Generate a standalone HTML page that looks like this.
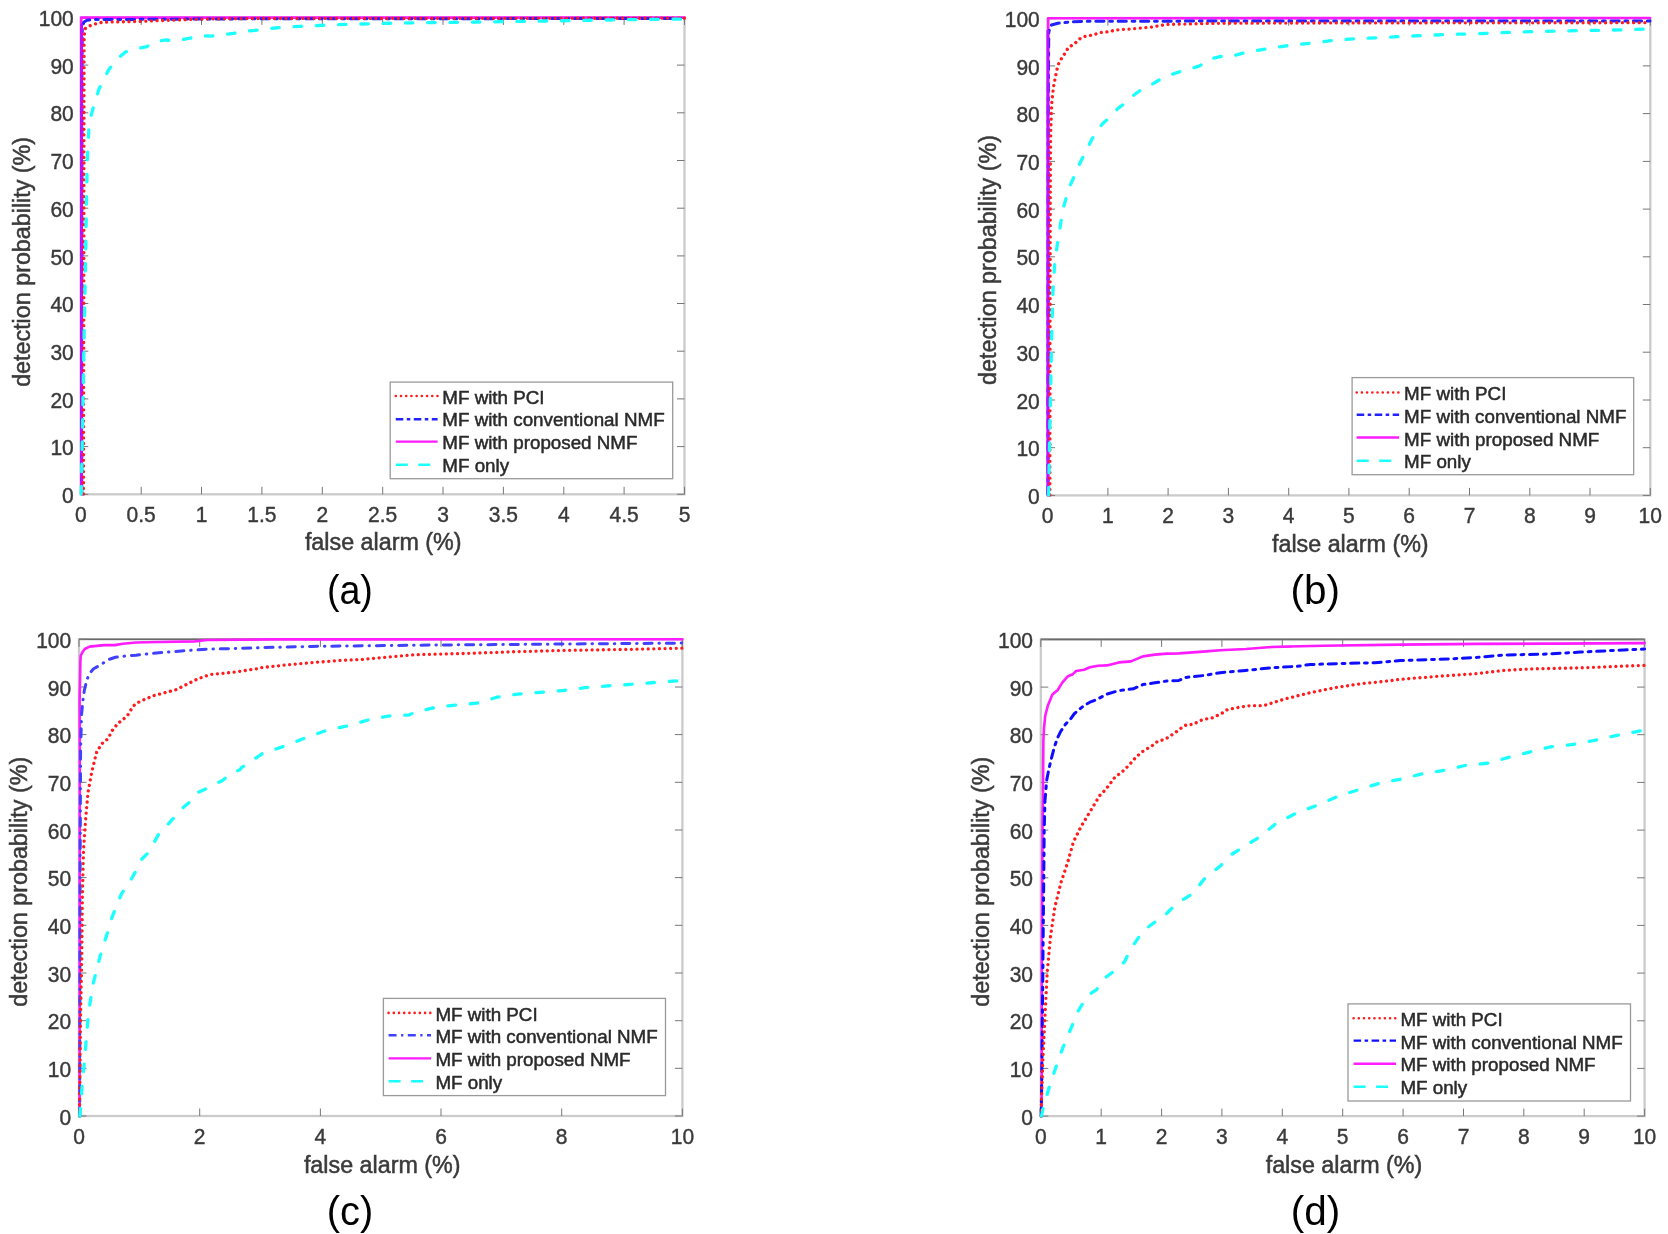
<!DOCTYPE html><html><head><meta charset="utf-8"><style>html,body{margin:0;padding:0;background:#fff;}svg{display:block}</style></head><body>
<svg width="1668" height="1234" viewBox="0 0 1668 1234" font-family='"Liberation Sans", sans-serif'>
<style>.tk{font-size:21px;fill:#3a3a3a;stroke:#3a3a3a;stroke-width:0.4}.lg{font-size:18.8px;fill:#2a2a2a;stroke:#2a2a2a;stroke-width:0.5}.al{font-size:23.3px;fill:#3a3a3a;stroke:#3a3a3a;stroke-width:0.5}.fl{font-size:40.5px;fill:#000}</style>
<rect width="1668" height="1234" fill="#fff"/>
<defs><filter id="bl" x="-5%" y="-5%" width="110%" height="110%"><feGaussianBlur stdDeviation="0.6"/></filter><filter id="tb" x="-2%" y="-2%" width="104%" height="104%"><feGaussianBlur stdDeviation="0.3"/></filter></defs>
<g filter="url(#tb)"><rect x="80.8" y="17.4" width="603.7" height="476.9" fill="none" stroke="#cbcbcb" stroke-width="2.3"/><line x1="80.8" y1="494.3" x2="80.8" y2="486.8" stroke="#777777" stroke-width="1.0"/><line x1="80.8" y1="17.4" x2="80.8" y2="24.9" stroke="#777777" stroke-width="1.0"/><line x1="141.2" y1="494.3" x2="141.2" y2="486.8" stroke="#777777" stroke-width="1.0"/><line x1="141.2" y1="17.4" x2="141.2" y2="24.9" stroke="#777777" stroke-width="1.0"/><line x1="201.5" y1="494.3" x2="201.5" y2="486.8" stroke="#777777" stroke-width="1.0"/><line x1="201.5" y1="17.4" x2="201.5" y2="24.9" stroke="#777777" stroke-width="1.0"/><line x1="261.9" y1="494.3" x2="261.9" y2="486.8" stroke="#777777" stroke-width="1.0"/><line x1="261.9" y1="17.4" x2="261.9" y2="24.9" stroke="#777777" stroke-width="1.0"/><line x1="322.3" y1="494.3" x2="322.3" y2="486.8" stroke="#777777" stroke-width="1.0"/><line x1="322.3" y1="17.4" x2="322.3" y2="24.9" stroke="#777777" stroke-width="1.0"/><line x1="382.7" y1="494.3" x2="382.7" y2="486.8" stroke="#777777" stroke-width="1.0"/><line x1="382.7" y1="17.4" x2="382.7" y2="24.9" stroke="#777777" stroke-width="1.0"/><line x1="443.0" y1="494.3" x2="443.0" y2="486.8" stroke="#777777" stroke-width="1.0"/><line x1="443.0" y1="17.4" x2="443.0" y2="24.9" stroke="#777777" stroke-width="1.0"/><line x1="503.4" y1="494.3" x2="503.4" y2="486.8" stroke="#777777" stroke-width="1.0"/><line x1="503.4" y1="17.4" x2="503.4" y2="24.9" stroke="#777777" stroke-width="1.0"/><line x1="563.8" y1="494.3" x2="563.8" y2="486.8" stroke="#777777" stroke-width="1.0"/><line x1="563.8" y1="17.4" x2="563.8" y2="24.9" stroke="#777777" stroke-width="1.0"/><line x1="624.1" y1="494.3" x2="624.1" y2="486.8" stroke="#777777" stroke-width="1.0"/><line x1="624.1" y1="17.4" x2="624.1" y2="24.9" stroke="#777777" stroke-width="1.0"/><line x1="684.5" y1="494.3" x2="684.5" y2="486.8" stroke="#777777" stroke-width="1.0"/><line x1="684.5" y1="17.4" x2="684.5" y2="24.9" stroke="#777777" stroke-width="1.0"/><line x1="80.8" y1="494.3" x2="88.3" y2="494.3" stroke="#777777" stroke-width="1.0"/><line x1="684.5" y1="494.3" x2="677.0" y2="494.3" stroke="#777777" stroke-width="1.0"/><line x1="80.8" y1="446.6" x2="88.3" y2="446.6" stroke="#777777" stroke-width="1.0"/><line x1="684.5" y1="446.6" x2="677.0" y2="446.6" stroke="#777777" stroke-width="1.0"/><line x1="80.8" y1="398.9" x2="88.3" y2="398.9" stroke="#777777" stroke-width="1.0"/><line x1="684.5" y1="398.9" x2="677.0" y2="398.9" stroke="#777777" stroke-width="1.0"/><line x1="80.8" y1="351.2" x2="88.3" y2="351.2" stroke="#777777" stroke-width="1.0"/><line x1="684.5" y1="351.2" x2="677.0" y2="351.2" stroke="#777777" stroke-width="1.0"/><line x1="80.8" y1="303.5" x2="88.3" y2="303.5" stroke="#777777" stroke-width="1.0"/><line x1="684.5" y1="303.5" x2="677.0" y2="303.5" stroke="#777777" stroke-width="1.0"/><line x1="80.8" y1="255.9" x2="88.3" y2="255.9" stroke="#777777" stroke-width="1.0"/><line x1="684.5" y1="255.9" x2="677.0" y2="255.9" stroke="#777777" stroke-width="1.0"/><line x1="80.8" y1="208.2" x2="88.3" y2="208.2" stroke="#777777" stroke-width="1.0"/><line x1="684.5" y1="208.2" x2="677.0" y2="208.2" stroke="#777777" stroke-width="1.0"/><line x1="80.8" y1="160.5" x2="88.3" y2="160.5" stroke="#777777" stroke-width="1.0"/><line x1="684.5" y1="160.5" x2="677.0" y2="160.5" stroke="#777777" stroke-width="1.0"/><line x1="80.8" y1="112.8" x2="88.3" y2="112.8" stroke="#777777" stroke-width="1.0"/><line x1="684.5" y1="112.8" x2="677.0" y2="112.8" stroke="#777777" stroke-width="1.0"/><line x1="80.8" y1="65.1" x2="88.3" y2="65.1" stroke="#777777" stroke-width="1.0"/><line x1="684.5" y1="65.1" x2="677.0" y2="65.1" stroke="#777777" stroke-width="1.0"/><line x1="80.8" y1="17.4" x2="88.3" y2="17.4" stroke="#777777" stroke-width="1.0"/><line x1="684.5" y1="17.4" x2="677.0" y2="17.4" stroke="#777777" stroke-width="1.0"/><text class="tk" text-anchor="middle" transform="translate(80.8,522.2) scale(1,1.06)">0</text><text class="tk" text-anchor="middle" transform="translate(141.2,522.2) scale(1,1.06)">0.5</text><text class="tk" text-anchor="middle" transform="translate(201.5,522.2) scale(1,1.06)">1</text><text class="tk" text-anchor="middle" transform="translate(261.9,522.2) scale(1,1.06)">1.5</text><text class="tk" text-anchor="middle" transform="translate(322.3,522.2) scale(1,1.06)">2</text><text class="tk" text-anchor="middle" transform="translate(382.7,522.2) scale(1,1.06)">2.5</text><text class="tk" text-anchor="middle" transform="translate(443.0,522.2) scale(1,1.06)">3</text><text class="tk" text-anchor="middle" transform="translate(503.4,522.2) scale(1,1.06)">3.5</text><text class="tk" text-anchor="middle" transform="translate(563.8,522.2) scale(1,1.06)">4</text><text class="tk" text-anchor="middle" transform="translate(624.1,522.2) scale(1,1.06)">4.5</text><text class="tk" text-anchor="middle" transform="translate(684.5,522.2) scale(1,1.06)">5</text><text class="tk" text-anchor="end" transform="translate(73.8,502.9) scale(1,1.06)">0</text><text class="tk" text-anchor="end" transform="translate(73.8,455.2) scale(1,1.06)">10</text><text class="tk" text-anchor="end" transform="translate(73.8,407.5) scale(1,1.06)">20</text><text class="tk" text-anchor="end" transform="translate(73.8,359.8) scale(1,1.06)">30</text><text class="tk" text-anchor="end" transform="translate(73.8,312.1) scale(1,1.06)">40</text><text class="tk" text-anchor="end" transform="translate(73.8,264.5) scale(1,1.06)">50</text><text class="tk" text-anchor="end" transform="translate(73.8,216.8) scale(1,1.06)">60</text><text class="tk" text-anchor="end" transform="translate(73.8,169.1) scale(1,1.06)">70</text><text class="tk" text-anchor="end" transform="translate(73.8,121.4) scale(1,1.06)">80</text><text class="tk" text-anchor="end" transform="translate(73.8,73.7) scale(1,1.06)">90</text><text class="tk" text-anchor="end" transform="translate(73.8,26.0) scale(1,1.06)">100</text></g>
<g filter="url(#bl)"><polyline points="81.2,494.0 81.2,17.6 684.5,17.6" fill="none" stroke="#ff1aff" stroke-width="2.6" stroke-linecap="round" stroke-linejoin="round"/><polyline points="81.8,494.0 81.9,200.0 82.0,60.0 82.3,26.0 84.0,22.0 87.0,20.2 95.0,19.6 150.0,19.3 250.0,18.8 684.5,18.5" fill="none" stroke="#2020ff" stroke-width="3.0" stroke-linecap="round" stroke-linejoin="round" stroke-dasharray="8.2 5.7 2.8 5.7"/><polyline points="81.6,494.0 81.6,24.0" fill="none" stroke="#c00cff" stroke-width="2.8" stroke-linejoin="round"/><polyline points="83.5,494.0 83.8,300.0 84.0,100.0 84.1,40.0 84.6,31.0 85.4,28.5 89.3,26.0 95.1,24.0 101.6,22.4 110.0,22.0 140.0,21.4 165.0,20.4 195.0,19.2 250.0,18.5 684.5,18.2" fill="none" stroke="#ff1a1a" stroke-width="3.3" stroke-linecap="round" stroke-linejoin="round" stroke-dasharray="0.01 5.6"/><polyline points="81.2,494.0 81.7,470.0 82.3,440.0 83.0,400.0 83.8,350.0 84.8,300.0 85.7,250.0 86.5,200.0 87.3,160.0 88.8,130.0 90.5,118.0 92.4,110.7 96.0,98.7 99.0,89.1 103.8,79.5 108.6,70.0 117.0,59.2 125.4,52.0 135.0,49.0 147.0,46.6 153.0,42.4 165.0,40.0 174.5,40.6 180.5,40.0 190.1,38.2 200.9,35.8 211.7,36.1 222.5,34.6 233.3,33.4 244.1,31.3 254.9,30.4 265.6,29.2 275.0,28.0 300.0,26.3 330.0,25.0 360.0,24.0 400.0,23.0 440.0,22.5 480.0,22.0 520.0,21.4 560.0,20.8 600.0,20.1 640.0,19.5 684.5,19.1" fill="none" stroke="#1affff" stroke-width="3.3" stroke-linecap="round" stroke-linejoin="round" stroke-dasharray="7.5 14.8"/></g>
<g filter="url(#tb)"><rect x="390.2" y="382.1" width="282.5" height="96.6" fill="#fff" stroke="#9a9a9a" stroke-width="1.3"/><line x1="395.8" y1="396.0" x2="437.6" y2="396.0" stroke="#ff1a1a" stroke-width="2.6" stroke-linecap="round" stroke-dasharray="0.01 5.2"/><text x="442.3" y="403.7" class="lg">MF with PCI</text><line x1="395.8" y1="419.3" x2="437.6" y2="419.3" stroke="#2020ff" stroke-width="2.4" stroke-linecap="butt" stroke-dasharray="7.5 3.5 3.5 3.5"/><text x="442.3" y="426.4" class="lg">MF with conventional NMF</text><line x1="395.8" y1="441.6" x2="437.6" y2="441.6" stroke="#ff1aff" stroke-width="2.4" stroke-linecap="butt"/><text x="442.3" y="449.1" class="lg">MF with proposed NMF</text><line x1="395.8" y1="464.8" x2="437.6" y2="464.8" stroke="#1affff" stroke-width="2.4" stroke-linecap="butt" stroke-dasharray="12 10.5"/><text x="442.3" y="471.8" class="lg">MF only</text></g>
<g filter="url(#tb)"><text x="0" y="0" class="al" text-anchor="middle" transform="translate(24.0,261.9) rotate(-90)" dy="6.2">detection probability (%)</text>
<text x="383.2" y="550.0" class="al" text-anchor="middle">false alarm (%)</text>
<text x="0" y="0" class="fl" text-anchor="middle" transform="translate(349.9,603.6) scale(0.930,1)">(a)</text></g>
<g filter="url(#tb)"><rect x="1047.6" y="18.2" width="602.7" height="477.2" fill="none" stroke="#cbcbcb" stroke-width="2.3"/><line x1="1047.6" y1="495.4" x2="1047.6" y2="487.9" stroke="#777777" stroke-width="1.0"/><line x1="1047.6" y1="18.2" x2="1047.6" y2="25.7" stroke="#777777" stroke-width="1.0"/><line x1="1107.9" y1="495.4" x2="1107.9" y2="487.9" stroke="#777777" stroke-width="1.0"/><line x1="1107.9" y1="18.2" x2="1107.9" y2="25.7" stroke="#777777" stroke-width="1.0"/><line x1="1168.1" y1="495.4" x2="1168.1" y2="487.9" stroke="#777777" stroke-width="1.0"/><line x1="1168.1" y1="18.2" x2="1168.1" y2="25.7" stroke="#777777" stroke-width="1.0"/><line x1="1228.4" y1="495.4" x2="1228.4" y2="487.9" stroke="#777777" stroke-width="1.0"/><line x1="1228.4" y1="18.2" x2="1228.4" y2="25.7" stroke="#777777" stroke-width="1.0"/><line x1="1288.7" y1="495.4" x2="1288.7" y2="487.9" stroke="#777777" stroke-width="1.0"/><line x1="1288.7" y1="18.2" x2="1288.7" y2="25.7" stroke="#777777" stroke-width="1.0"/><line x1="1348.9" y1="495.4" x2="1348.9" y2="487.9" stroke="#777777" stroke-width="1.0"/><line x1="1348.9" y1="18.2" x2="1348.9" y2="25.7" stroke="#777777" stroke-width="1.0"/><line x1="1409.2" y1="495.4" x2="1409.2" y2="487.9" stroke="#777777" stroke-width="1.0"/><line x1="1409.2" y1="18.2" x2="1409.2" y2="25.7" stroke="#777777" stroke-width="1.0"/><line x1="1469.5" y1="495.4" x2="1469.5" y2="487.9" stroke="#777777" stroke-width="1.0"/><line x1="1469.5" y1="18.2" x2="1469.5" y2="25.7" stroke="#777777" stroke-width="1.0"/><line x1="1529.8" y1="495.4" x2="1529.8" y2="487.9" stroke="#777777" stroke-width="1.0"/><line x1="1529.8" y1="18.2" x2="1529.8" y2="25.7" stroke="#777777" stroke-width="1.0"/><line x1="1590.0" y1="495.4" x2="1590.0" y2="487.9" stroke="#777777" stroke-width="1.0"/><line x1="1590.0" y1="18.2" x2="1590.0" y2="25.7" stroke="#777777" stroke-width="1.0"/><line x1="1650.3" y1="495.4" x2="1650.3" y2="487.9" stroke="#777777" stroke-width="1.0"/><line x1="1650.3" y1="18.2" x2="1650.3" y2="25.7" stroke="#777777" stroke-width="1.0"/><line x1="1047.6" y1="495.4" x2="1055.1" y2="495.4" stroke="#777777" stroke-width="1.0"/><line x1="1650.3" y1="495.4" x2="1642.8" y2="495.4" stroke="#777777" stroke-width="1.0"/><line x1="1047.6" y1="447.7" x2="1055.1" y2="447.7" stroke="#777777" stroke-width="1.0"/><line x1="1650.3" y1="447.7" x2="1642.8" y2="447.7" stroke="#777777" stroke-width="1.0"/><line x1="1047.6" y1="400.0" x2="1055.1" y2="400.0" stroke="#777777" stroke-width="1.0"/><line x1="1650.3" y1="400.0" x2="1642.8" y2="400.0" stroke="#777777" stroke-width="1.0"/><line x1="1047.6" y1="352.2" x2="1055.1" y2="352.2" stroke="#777777" stroke-width="1.0"/><line x1="1650.3" y1="352.2" x2="1642.8" y2="352.2" stroke="#777777" stroke-width="1.0"/><line x1="1047.6" y1="304.5" x2="1055.1" y2="304.5" stroke="#777777" stroke-width="1.0"/><line x1="1650.3" y1="304.5" x2="1642.8" y2="304.5" stroke="#777777" stroke-width="1.0"/><line x1="1047.6" y1="256.8" x2="1055.1" y2="256.8" stroke="#777777" stroke-width="1.0"/><line x1="1650.3" y1="256.8" x2="1642.8" y2="256.8" stroke="#777777" stroke-width="1.0"/><line x1="1047.6" y1="209.1" x2="1055.1" y2="209.1" stroke="#777777" stroke-width="1.0"/><line x1="1650.3" y1="209.1" x2="1642.8" y2="209.1" stroke="#777777" stroke-width="1.0"/><line x1="1047.6" y1="161.4" x2="1055.1" y2="161.4" stroke="#777777" stroke-width="1.0"/><line x1="1650.3" y1="161.4" x2="1642.8" y2="161.4" stroke="#777777" stroke-width="1.0"/><line x1="1047.6" y1="113.6" x2="1055.1" y2="113.6" stroke="#777777" stroke-width="1.0"/><line x1="1650.3" y1="113.6" x2="1642.8" y2="113.6" stroke="#777777" stroke-width="1.0"/><line x1="1047.6" y1="65.9" x2="1055.1" y2="65.9" stroke="#777777" stroke-width="1.0"/><line x1="1650.3" y1="65.9" x2="1642.8" y2="65.9" stroke="#777777" stroke-width="1.0"/><line x1="1047.6" y1="18.2" x2="1055.1" y2="18.2" stroke="#777777" stroke-width="1.0"/><line x1="1650.3" y1="18.2" x2="1642.8" y2="18.2" stroke="#777777" stroke-width="1.0"/><text class="tk" text-anchor="middle" transform="translate(1047.6,523.3) scale(1,1.06)">0</text><text class="tk" text-anchor="middle" transform="translate(1107.9,523.3) scale(1,1.06)">1</text><text class="tk" text-anchor="middle" transform="translate(1168.1,523.3) scale(1,1.06)">2</text><text class="tk" text-anchor="middle" transform="translate(1228.4,523.3) scale(1,1.06)">3</text><text class="tk" text-anchor="middle" transform="translate(1288.7,523.3) scale(1,1.06)">4</text><text class="tk" text-anchor="middle" transform="translate(1348.9,523.3) scale(1,1.06)">5</text><text class="tk" text-anchor="middle" transform="translate(1409.2,523.3) scale(1,1.06)">6</text><text class="tk" text-anchor="middle" transform="translate(1469.5,523.3) scale(1,1.06)">7</text><text class="tk" text-anchor="middle" transform="translate(1529.8,523.3) scale(1,1.06)">8</text><text class="tk" text-anchor="middle" transform="translate(1590.0,523.3) scale(1,1.06)">9</text><text class="tk" text-anchor="middle" transform="translate(1650.3,523.3) scale(1,1.06)">10</text><text class="tk" text-anchor="end" transform="translate(1039.8,504.0) scale(1,1.06)">0</text><text class="tk" text-anchor="end" transform="translate(1039.8,456.3) scale(1,1.06)">10</text><text class="tk" text-anchor="end" transform="translate(1039.8,408.6) scale(1,1.06)">20</text><text class="tk" text-anchor="end" transform="translate(1039.8,360.8) scale(1,1.06)">30</text><text class="tk" text-anchor="end" transform="translate(1039.8,313.1) scale(1,1.06)">40</text><text class="tk" text-anchor="end" transform="translate(1039.8,265.4) scale(1,1.06)">50</text><text class="tk" text-anchor="end" transform="translate(1039.8,217.7) scale(1,1.06)">60</text><text class="tk" text-anchor="end" transform="translate(1039.8,170.0) scale(1,1.06)">70</text><text class="tk" text-anchor="end" transform="translate(1039.8,122.2) scale(1,1.06)">80</text><text class="tk" text-anchor="end" transform="translate(1039.8,74.5) scale(1,1.06)">90</text><text class="tk" text-anchor="end" transform="translate(1039.8,26.8) scale(1,1.06)">100</text></g>
<g filter="url(#bl)"><polyline points="1048.2,495.0 1048.2,18.2 1650.0,18.0" fill="none" stroke="#ff1aff" stroke-width="2.6" stroke-linecap="round" stroke-linejoin="round"/><polyline points="1048.0,495.0 1048.2,100.0 1048.8,31.6 1051.4,25.0 1058.0,23.2 1070.0,22.0 1088.0,21.3 1150.0,21.2 1231.8,21.0 1650.0,21.0" fill="none" stroke="#2020ff" stroke-width="3.0" stroke-linecap="round" stroke-linejoin="round" stroke-dasharray="8.2 5.7 2.8 5.7"/><polyline points="1047.8,495.0 1047.8,30.0" fill="none" stroke="#c00cff" stroke-width="2.8" stroke-linejoin="round"/><polyline points="1049.9,495.0 1050.1,300.0 1050.4,160.0 1050.8,129.9 1051.6,105.0 1052.4,96.0 1053.1,90.6 1054.0,84.1 1055.3,77.6 1056.6,71.1 1057.6,66.6 1059.6,61.4 1062.8,56.8 1064.7,53.6 1068.6,47.1 1073.8,44.5 1077.1,41.3 1080.3,38.4 1084.8,36.4 1090.7,35.4 1095.2,34.2 1100.4,32.5 1105.6,32.2 1110.8,31.2 1116.0,29.9 1121.1,29.6 1135.9,28.6 1153.9,26.8 1165.9,24.4 1183.9,24.1 1207.9,23.4 1239.0,23.2 1300.0,23.0 1400.0,22.9 1500.0,22.8 1650.0,22.7" fill="none" stroke="#ff1a1a" stroke-width="3.3" stroke-linecap="round" stroke-linejoin="round" stroke-dasharray="0.01 5.6"/><polyline points="1048.6,495.0 1049.8,427.7 1050.8,381.5 1051.7,335.4 1052.9,292.3 1054.8,261.5 1058.5,237.0 1063.0,209.0 1069.2,187.7 1080.0,163.0 1092.3,138.5 1097.6,129.9 1103.5,122.7 1112.0,115.5 1118.0,108.3 1126.3,102.3 1132.3,96.3 1141.9,89.1 1149.1,86.1 1159.9,79.5 1167.1,76.0 1177.9,72.3 1186.3,70.0 1198.3,66.4 1201.9,64.6 1209.1,59.2 1222.3,56.2 1231.8,56.2 1246.4,52.2 1270.1,48.3 1291.2,45.1 1312.3,43.0 1333.5,40.3 1357.2,38.5 1378.3,37.7 1402.0,36.4 1423.2,35.6 1444.3,34.5 1468.0,34.0 1489.1,33.2 1510.2,32.4 1533.9,31.6 1555.1,31.1 1578.8,30.6 1599.9,30.3 1623.7,29.8 1650.0,29.0" fill="none" stroke="#1affff" stroke-width="3.3" stroke-linecap="round" stroke-linejoin="round" stroke-dasharray="7.5 14.8"/></g>
<g filter="url(#tb)"><rect x="1352.1" y="377.6" width="281.6" height="97.1" fill="#fff" stroke="#9a9a9a" stroke-width="1.3"/><line x1="1356.7" y1="392.5" x2="1399.1" y2="392.5" stroke="#ff1a1a" stroke-width="2.6" stroke-linecap="round" stroke-dasharray="0.01 5.2"/><text x="1404.1" y="400.2" class="lg">MF with PCI</text><line x1="1356.7" y1="414.8" x2="1399.1" y2="414.8" stroke="#2020ff" stroke-width="2.4" stroke-linecap="butt" stroke-dasharray="7.5 3.5 3.5 3.5"/><text x="1404.1" y="422.9" class="lg">MF with conventional NMF</text><line x1="1356.7" y1="437.5" x2="1399.1" y2="437.5" stroke="#ff1aff" stroke-width="2.4" stroke-linecap="butt"/><text x="1404.1" y="445.6" class="lg">MF with proposed NMF</text><line x1="1356.7" y1="460.7" x2="1399.1" y2="460.7" stroke="#1affff" stroke-width="2.4" stroke-linecap="butt" stroke-dasharray="12 10.5"/><text x="1404.1" y="468.3" class="lg">MF only</text></g>
<g filter="url(#tb)"><text x="0" y="0" class="al" text-anchor="middle" transform="translate(990.0,260.0) rotate(-90)" dy="6.2">detection probability (%)</text>
<text x="1350.3" y="552.0" class="al" text-anchor="middle">false alarm (%)</text>
<text x="0" y="0" class="fl" text-anchor="middle" transform="translate(1315.2,603.6) scale(1.000,1)">(b)</text></g>
<g filter="url(#tb)"><rect x="79.0" y="639.3" width="603.4" height="476.7" fill="none" stroke="#cbcbcb" stroke-width="2.3"/><line x1="79.0" y1="639.3" x2="682.4" y2="639.3" stroke="#6a6a6a" stroke-width="1.6"/><line x1="79.0" y1="1116.0" x2="79.0" y2="1108.5" stroke="#777777" stroke-width="1.0"/><line x1="79.0" y1="639.3" x2="79.0" y2="646.8" stroke="#777777" stroke-width="1.0"/><line x1="199.7" y1="1116.0" x2="199.7" y2="1108.5" stroke="#777777" stroke-width="1.0"/><line x1="199.7" y1="639.3" x2="199.7" y2="646.8" stroke="#777777" stroke-width="1.0"/><line x1="320.4" y1="1116.0" x2="320.4" y2="1108.5" stroke="#777777" stroke-width="1.0"/><line x1="320.4" y1="639.3" x2="320.4" y2="646.8" stroke="#777777" stroke-width="1.0"/><line x1="441.0" y1="1116.0" x2="441.0" y2="1108.5" stroke="#777777" stroke-width="1.0"/><line x1="441.0" y1="639.3" x2="441.0" y2="646.8" stroke="#777777" stroke-width="1.0"/><line x1="561.7" y1="1116.0" x2="561.7" y2="1108.5" stroke="#777777" stroke-width="1.0"/><line x1="561.7" y1="639.3" x2="561.7" y2="646.8" stroke="#777777" stroke-width="1.0"/><line x1="682.4" y1="1116.0" x2="682.4" y2="1108.5" stroke="#777777" stroke-width="1.0"/><line x1="682.4" y1="639.3" x2="682.4" y2="646.8" stroke="#777777" stroke-width="1.0"/><line x1="79.0" y1="1116.0" x2="86.5" y2="1116.0" stroke="#777777" stroke-width="1.0"/><line x1="682.4" y1="1116.0" x2="674.9" y2="1116.0" stroke="#777777" stroke-width="1.0"/><line x1="79.0" y1="1068.3" x2="86.5" y2="1068.3" stroke="#777777" stroke-width="1.0"/><line x1="682.4" y1="1068.3" x2="674.9" y2="1068.3" stroke="#777777" stroke-width="1.0"/><line x1="79.0" y1="1020.7" x2="86.5" y2="1020.7" stroke="#777777" stroke-width="1.0"/><line x1="682.4" y1="1020.7" x2="674.9" y2="1020.7" stroke="#777777" stroke-width="1.0"/><line x1="79.0" y1="973.0" x2="86.5" y2="973.0" stroke="#777777" stroke-width="1.0"/><line x1="682.4" y1="973.0" x2="674.9" y2="973.0" stroke="#777777" stroke-width="1.0"/><line x1="79.0" y1="925.3" x2="86.5" y2="925.3" stroke="#777777" stroke-width="1.0"/><line x1="682.4" y1="925.3" x2="674.9" y2="925.3" stroke="#777777" stroke-width="1.0"/><line x1="79.0" y1="877.6" x2="86.5" y2="877.6" stroke="#777777" stroke-width="1.0"/><line x1="682.4" y1="877.6" x2="674.9" y2="877.6" stroke="#777777" stroke-width="1.0"/><line x1="79.0" y1="830.0" x2="86.5" y2="830.0" stroke="#777777" stroke-width="1.0"/><line x1="682.4" y1="830.0" x2="674.9" y2="830.0" stroke="#777777" stroke-width="1.0"/><line x1="79.0" y1="782.3" x2="86.5" y2="782.3" stroke="#777777" stroke-width="1.0"/><line x1="682.4" y1="782.3" x2="674.9" y2="782.3" stroke="#777777" stroke-width="1.0"/><line x1="79.0" y1="734.6" x2="86.5" y2="734.6" stroke="#777777" stroke-width="1.0"/><line x1="682.4" y1="734.6" x2="674.9" y2="734.6" stroke="#777777" stroke-width="1.0"/><line x1="79.0" y1="687.0" x2="86.5" y2="687.0" stroke="#777777" stroke-width="1.0"/><line x1="682.4" y1="687.0" x2="674.9" y2="687.0" stroke="#777777" stroke-width="1.0"/><line x1="79.0" y1="639.3" x2="86.5" y2="639.3" stroke="#777777" stroke-width="1.0"/><line x1="682.4" y1="639.3" x2="674.9" y2="639.3" stroke="#777777" stroke-width="1.0"/><text class="tk" text-anchor="middle" transform="translate(79.0,1143.9) scale(1,1.06)">0</text><text class="tk" text-anchor="middle" transform="translate(199.7,1143.9) scale(1,1.06)">2</text><text class="tk" text-anchor="middle" transform="translate(320.4,1143.9) scale(1,1.06)">4</text><text class="tk" text-anchor="middle" transform="translate(441.0,1143.9) scale(1,1.06)">6</text><text class="tk" text-anchor="middle" transform="translate(561.7,1143.9) scale(1,1.06)">8</text><text class="tk" text-anchor="middle" transform="translate(682.4,1143.9) scale(1,1.06)">10</text><text class="tk" text-anchor="end" transform="translate(71.2,1124.6) scale(1,1.06)">0</text><text class="tk" text-anchor="end" transform="translate(71.2,1076.9) scale(1,1.06)">10</text><text class="tk" text-anchor="end" transform="translate(71.2,1029.3) scale(1,1.06)">20</text><text class="tk" text-anchor="end" transform="translate(71.2,981.6) scale(1,1.06)">30</text><text class="tk" text-anchor="end" transform="translate(71.2,933.9) scale(1,1.06)">40</text><text class="tk" text-anchor="end" transform="translate(71.2,886.2) scale(1,1.06)">50</text><text class="tk" text-anchor="end" transform="translate(71.2,838.6) scale(1,1.06)">60</text><text class="tk" text-anchor="end" transform="translate(71.2,790.9) scale(1,1.06)">70</text><text class="tk" text-anchor="end" transform="translate(71.2,743.2) scale(1,1.06)">80</text><text class="tk" text-anchor="end" transform="translate(71.2,695.6) scale(1,1.06)">90</text><text class="tk" text-anchor="end" transform="translate(71.2,647.9) scale(1,1.06)">100</text></g>
<g filter="url(#bl)"><polyline points="79.6,1116.0 79.7,900.0 79.8,749.9 79.6,700.0 80.1,677.5 80.4,661.9 80.7,655.7 82.2,652.6 84.8,649.0 89.5,646.6 96.7,645.9 104.5,645.1 114.9,645.1 122.7,643.8 136.0,642.5 158.9,642.0 194.9,641.4 206.9,640.0 275.0,639.4 682.4,639.3" fill="none" stroke="#ff1aff" stroke-width="2.6" stroke-linecap="round" stroke-linejoin="round"/><polyline points="79.8,1116.0 80.0,900.0 80.6,750.0 81.6,713.9 83.0,700.0 84.3,690.5 85.9,683.7 87.2,679.0 89.0,674.9 91.0,671.8 93.6,668.7 99.3,665.6 105.0,661.9 109.2,659.3 115.4,657.3 121.6,656.5 127.9,655.7 136.0,655.2 147.0,654.0 164.9,652.2 188.9,650.4 206.9,649.2 230.9,648.6 254.9,648.0 260.0,647.7 311.6,646.4 414.7,645.2 517.8,644.4 682.4,643.1" fill="none" stroke="#4040ff" stroke-width="3.0" stroke-linecap="round" stroke-linejoin="round" stroke-dasharray="8.1 6.8 0.5 6.9"/><polyline points="79.6,1116.0 79.6,1109.8 80.5,1017.4 81.8,955.7 82.4,894.0 83.6,847.9 85.8,817.0 88.0,792.4 92.0,770.8 96.6,752.3 97.4,751.9 100.8,744.7 108.1,738.6 110.1,734.6 112.2,730.5 115.4,726.9 117.4,723.2 121.5,721.2 124.7,718.0 128.0,714.7 130.4,710.7 133.2,706.2 136.5,703.4 141.7,700.5 147.4,698.5 151.5,696.1 156.7,694.9 176.3,689.6 197.9,678.8 210.0,674.6 233.9,672.2 257.9,668.6 260.0,667.8 285.8,665.0 311.6,662.7 337.3,660.6 363.1,659.3 388.9,657.0 414.7,654.7 466.2,653.4 517.8,651.6 569.4,650.3 620.9,649.5 682.4,648.2" fill="none" stroke="#ff1a1a" stroke-width="3.3" stroke-linecap="round" stroke-linejoin="round" stroke-dasharray="0.01 5.6"/><polyline points="79.8,1116.0 80.9,1103.0 82.5,1080.0 84.8,1058.0 86.6,1035.0 88.6,1012.0 90.9,997.7 93.3,983.1 96.3,971.4 100.2,955.9 103.6,944.2 106.0,937.4 109.9,924.7 111.8,917.9 116.7,905.3 121.6,893.6 127.8,884.8 132.2,877.5 137.5,868.2 141.9,859.0 149.2,851.7 153.1,844.4 158.9,833.7 164.7,828.4 172.5,819.1 178.4,814.3 183.2,807.5 189.1,802.6 196.8,792.9 204.6,789.5 214.4,784.1 222.1,780.7 231.9,772.9 239.6,770.0 241.4,767.7 259.9,755.4 262.6,753.4 285.8,745.7 306.4,737.4 327.0,730.2 347.7,725.8 368.3,719.9 388.9,716.0 409.5,714.8 414.7,712.2 435.3,707.5 455.9,705.0 476.6,703.2 497.2,697.2 517.8,694.1 543.6,692.1 564.2,690.3 584.8,687.7 608.0,685.9 631.2,684.3 654.4,682.5 682.4,680.5" fill="none" stroke="#1affff" stroke-width="3.3" stroke-linecap="round" stroke-linejoin="round" stroke-dasharray="7.5 14.8"/></g>
<g filter="url(#tb)"><rect x="383.4" y="998.4" width="282.1" height="97.2" fill="#fff" stroke="#9a9a9a" stroke-width="1.3"/><line x1="388.6" y1="1012.9" x2="431.0" y2="1012.9" stroke="#ff1a1a" stroke-width="2.6" stroke-linecap="round" stroke-dasharray="0.01 5.2"/><text x="435.4" y="1020.6" class="lg">MF with PCI</text><line x1="388.6" y1="1035.2" x2="431.0" y2="1035.2" stroke="#4040ff" stroke-width="2.4" stroke-linecap="butt" stroke-dasharray="8 4.5 2.2 4.5"/><text x="435.4" y="1043.3" class="lg">MF with conventional NMF</text><line x1="388.6" y1="1058.4" x2="431.0" y2="1058.4" stroke="#ff1aff" stroke-width="2.4" stroke-linecap="butt"/><text x="435.4" y="1066.0" class="lg">MF with proposed NMF</text><line x1="388.6" y1="1081.3" x2="431.0" y2="1081.3" stroke="#1affff" stroke-width="2.4" stroke-linecap="butt" stroke-dasharray="12 10.5"/><text x="435.4" y="1088.7" class="lg">MF only</text></g>
<g filter="url(#tb)"><text x="0" y="0" class="al" text-anchor="middle" transform="translate(21.0,881.8) rotate(-90)" dy="6.2">detection probability (%)</text>
<text x="382.2" y="1172.5" class="al" text-anchor="middle">false alarm (%)</text>
<text x="0" y="0" class="fl" text-anchor="middle" transform="translate(350.0,1224.6) scale(0.985,1)">(c)</text></g>
<g filter="url(#tb)"><rect x="1040.8" y="639.4" width="603.8" height="476.7" fill="none" stroke="#cbcbcb" stroke-width="2.3"/><line x1="1040.8" y1="639.4" x2="1644.6" y2="639.4" stroke="#6a6a6a" stroke-width="1.6"/><line x1="1040.8" y1="1116.1" x2="1040.8" y2="1108.6" stroke="#777777" stroke-width="1.0"/><line x1="1040.8" y1="639.4" x2="1040.8" y2="646.9" stroke="#777777" stroke-width="1.0"/><line x1="1101.2" y1="1116.1" x2="1101.2" y2="1108.6" stroke="#777777" stroke-width="1.0"/><line x1="1101.2" y1="639.4" x2="1101.2" y2="646.9" stroke="#777777" stroke-width="1.0"/><line x1="1161.6" y1="1116.1" x2="1161.6" y2="1108.6" stroke="#777777" stroke-width="1.0"/><line x1="1161.6" y1="639.4" x2="1161.6" y2="646.9" stroke="#777777" stroke-width="1.0"/><line x1="1221.9" y1="1116.1" x2="1221.9" y2="1108.6" stroke="#777777" stroke-width="1.0"/><line x1="1221.9" y1="639.4" x2="1221.9" y2="646.9" stroke="#777777" stroke-width="1.0"/><line x1="1282.3" y1="1116.1" x2="1282.3" y2="1108.6" stroke="#777777" stroke-width="1.0"/><line x1="1282.3" y1="639.4" x2="1282.3" y2="646.9" stroke="#777777" stroke-width="1.0"/><line x1="1342.7" y1="1116.1" x2="1342.7" y2="1108.6" stroke="#777777" stroke-width="1.0"/><line x1="1342.7" y1="639.4" x2="1342.7" y2="646.9" stroke="#777777" stroke-width="1.0"/><line x1="1403.1" y1="1116.1" x2="1403.1" y2="1108.6" stroke="#777777" stroke-width="1.0"/><line x1="1403.1" y1="639.4" x2="1403.1" y2="646.9" stroke="#777777" stroke-width="1.0"/><line x1="1463.5" y1="1116.1" x2="1463.5" y2="1108.6" stroke="#777777" stroke-width="1.0"/><line x1="1463.5" y1="639.4" x2="1463.5" y2="646.9" stroke="#777777" stroke-width="1.0"/><line x1="1523.8" y1="1116.1" x2="1523.8" y2="1108.6" stroke="#777777" stroke-width="1.0"/><line x1="1523.8" y1="639.4" x2="1523.8" y2="646.9" stroke="#777777" stroke-width="1.0"/><line x1="1584.2" y1="1116.1" x2="1584.2" y2="1108.6" stroke="#777777" stroke-width="1.0"/><line x1="1584.2" y1="639.4" x2="1584.2" y2="646.9" stroke="#777777" stroke-width="1.0"/><line x1="1644.6" y1="1116.1" x2="1644.6" y2="1108.6" stroke="#777777" stroke-width="1.0"/><line x1="1644.6" y1="639.4" x2="1644.6" y2="646.9" stroke="#777777" stroke-width="1.0"/><line x1="1040.8" y1="1116.1" x2="1048.3" y2="1116.1" stroke="#777777" stroke-width="1.0"/><line x1="1644.6" y1="1116.1" x2="1637.1" y2="1116.1" stroke="#777777" stroke-width="1.0"/><line x1="1040.8" y1="1068.4" x2="1048.3" y2="1068.4" stroke="#777777" stroke-width="1.0"/><line x1="1644.6" y1="1068.4" x2="1637.1" y2="1068.4" stroke="#777777" stroke-width="1.0"/><line x1="1040.8" y1="1020.8" x2="1048.3" y2="1020.8" stroke="#777777" stroke-width="1.0"/><line x1="1644.6" y1="1020.8" x2="1637.1" y2="1020.8" stroke="#777777" stroke-width="1.0"/><line x1="1040.8" y1="973.1" x2="1048.3" y2="973.1" stroke="#777777" stroke-width="1.0"/><line x1="1644.6" y1="973.1" x2="1637.1" y2="973.1" stroke="#777777" stroke-width="1.0"/><line x1="1040.8" y1="925.4" x2="1048.3" y2="925.4" stroke="#777777" stroke-width="1.0"/><line x1="1644.6" y1="925.4" x2="1637.1" y2="925.4" stroke="#777777" stroke-width="1.0"/><line x1="1040.8" y1="877.8" x2="1048.3" y2="877.8" stroke="#777777" stroke-width="1.0"/><line x1="1644.6" y1="877.8" x2="1637.1" y2="877.8" stroke="#777777" stroke-width="1.0"/><line x1="1040.8" y1="830.1" x2="1048.3" y2="830.1" stroke="#777777" stroke-width="1.0"/><line x1="1644.6" y1="830.1" x2="1637.1" y2="830.1" stroke="#777777" stroke-width="1.0"/><line x1="1040.8" y1="782.4" x2="1048.3" y2="782.4" stroke="#777777" stroke-width="1.0"/><line x1="1644.6" y1="782.4" x2="1637.1" y2="782.4" stroke="#777777" stroke-width="1.0"/><line x1="1040.8" y1="734.7" x2="1048.3" y2="734.7" stroke="#777777" stroke-width="1.0"/><line x1="1644.6" y1="734.7" x2="1637.1" y2="734.7" stroke="#777777" stroke-width="1.0"/><line x1="1040.8" y1="687.1" x2="1048.3" y2="687.1" stroke="#777777" stroke-width="1.0"/><line x1="1644.6" y1="687.1" x2="1637.1" y2="687.1" stroke="#777777" stroke-width="1.0"/><line x1="1040.8" y1="639.4" x2="1048.3" y2="639.4" stroke="#777777" stroke-width="1.0"/><line x1="1644.6" y1="639.4" x2="1637.1" y2="639.4" stroke="#777777" stroke-width="1.0"/><text class="tk" text-anchor="middle" transform="translate(1040.8,1144.0) scale(1,1.06)">0</text><text class="tk" text-anchor="middle" transform="translate(1101.2,1144.0) scale(1,1.06)">1</text><text class="tk" text-anchor="middle" transform="translate(1161.6,1144.0) scale(1,1.06)">2</text><text class="tk" text-anchor="middle" transform="translate(1221.9,1144.0) scale(1,1.06)">3</text><text class="tk" text-anchor="middle" transform="translate(1282.3,1144.0) scale(1,1.06)">4</text><text class="tk" text-anchor="middle" transform="translate(1342.7,1144.0) scale(1,1.06)">5</text><text class="tk" text-anchor="middle" transform="translate(1403.1,1144.0) scale(1,1.06)">6</text><text class="tk" text-anchor="middle" transform="translate(1463.5,1144.0) scale(1,1.06)">7</text><text class="tk" text-anchor="middle" transform="translate(1523.8,1144.0) scale(1,1.06)">8</text><text class="tk" text-anchor="middle" transform="translate(1584.2,1144.0) scale(1,1.06)">9</text><text class="tk" text-anchor="middle" transform="translate(1644.6,1144.0) scale(1,1.06)">10</text><text class="tk" text-anchor="end" transform="translate(1033.0,1124.7) scale(1,1.06)">0</text><text class="tk" text-anchor="end" transform="translate(1033.0,1077.0) scale(1,1.06)">10</text><text class="tk" text-anchor="end" transform="translate(1033.0,1029.4) scale(1,1.06)">20</text><text class="tk" text-anchor="end" transform="translate(1033.0,981.7) scale(1,1.06)">30</text><text class="tk" text-anchor="end" transform="translate(1033.0,934.0) scale(1,1.06)">40</text><text class="tk" text-anchor="end" transform="translate(1033.0,886.4) scale(1,1.06)">50</text><text class="tk" text-anchor="end" transform="translate(1033.0,838.7) scale(1,1.06)">60</text><text class="tk" text-anchor="end" transform="translate(1033.0,791.0) scale(1,1.06)">70</text><text class="tk" text-anchor="end" transform="translate(1033.0,743.3) scale(1,1.06)">80</text><text class="tk" text-anchor="end" transform="translate(1033.0,695.7) scale(1,1.06)">90</text><text class="tk" text-anchor="end" transform="translate(1033.0,648.0) scale(1,1.06)">100</text></g>
<g filter="url(#bl)"><polyline points="1041.6,1116.0 1041.8,950.0 1042.6,820.0 1043.1,790.0 1043.2,760.0 1043.4,740.0 1044.0,728.0 1045.2,716.0 1047.9,705.4 1052.4,694.6 1057.5,690.2 1062.3,682.6 1068.0,676.2 1072.9,674.2 1076.1,671.0 1084.2,669.7 1089.9,667.3 1098.0,665.7 1106.9,665.4 1118.9,662.4 1130.9,661.4 1142.9,656.4 1154.9,654.6 1166.9,653.6 1178.9,653.4 1202.9,651.6 1220.0,650.3 1245.8,649.0 1271.6,647.0 1323.1,645.7 1400.5,644.6 1477.8,643.9 1555.1,643.6 1644.6,643.1" fill="none" stroke="#ff1aff" stroke-width="2.6" stroke-linecap="round" stroke-linejoin="round"/><polyline points="1041.2,1116.0 1041.2,1112.9 1041.8,1079.0 1042.7,986.5 1043.6,894.1 1044.2,832.4 1044.9,801.6 1046.7,780.1 1049.0,768.5 1051.0,760.0 1054.2,747.6 1057.5,737.9 1060.7,731.4 1065.6,724.1 1070.4,719.2 1074.5,713.5 1078.6,709.9 1084.2,705.4 1089.9,702.2 1096.4,699.7 1106.9,694.1 1118.9,690.6 1133.3,688.8 1142.9,684.6 1154.9,682.8 1166.9,681.0 1178.9,680.4 1186.1,677.4 1202.9,675.6 1220.0,672.7 1245.8,670.4 1271.6,667.8 1297.3,666.3 1310.2,664.5 1336.0,663.7 1374.7,662.7 1400.5,660.6 1452.0,658.8 1477.8,657.3 1503.6,655.0 1542.2,654.2 1580.9,652.1 1606.7,650.8 1644.6,649.0" fill="none" stroke="#1010ff" stroke-width="3.0" stroke-linecap="round" stroke-linejoin="round" stroke-dasharray="8.2 5.7 2.8 5.7"/><polyline points="1041.2,1116.0 1041.2,1109.8 1042.7,1063.6 1044.9,1017.4 1047.3,971.1 1050.4,937.2 1055.0,906.4 1061.2,881.8 1067.4,863.3 1073.5,841.7 1081.2,826.3 1090.5,810.9 1099.7,795.5 1106.3,788.8 1114.9,777.3 1122.6,771.5 1129.3,764.8 1136.0,757.1 1142.8,751.4 1152.3,745.6 1157.1,741.8 1165.8,738.9 1174.4,733.2 1182.1,727.4 1186.9,724.5 1192.6,724.5 1202.2,719.7 1212.8,717.8 1222.4,713.0 1227.2,709.7 1236.8,707.7 1248.3,705.8 1263.8,705.6 1284.4,699.1 1310.2,692.7 1336.0,687.5 1361.8,683.6 1387.6,681.1 1400.5,679.3 1439.1,676.2 1477.8,673.6 1503.6,670.4 1529.4,668.9 1580.9,667.8 1644.6,665.3" fill="none" stroke="#ff1a1a" stroke-width="3.3" stroke-linecap="round" stroke-linejoin="round" stroke-dasharray="0.01 5.6"/><polyline points="1041.5,1116.0 1042.7,1109.8 1048.9,1088.2 1055.0,1069.7 1062.7,1048.2 1070.4,1029.7 1078.1,1011.2 1087.4,995.8 1096.6,989.6 1105.9,977.3 1118.2,968.0 1124.4,961.9 1130.5,949.5 1142.9,931.1 1155.2,921.8 1164.4,915.7 1176.8,903.3 1192.2,894.1 1204.5,878.7 1219.9,866.3 1232.2,854.0 1240.6,848.8 1261.2,835.9 1276.7,823.0 1297.3,812.7 1318.0,805.0 1338.6,796.0 1359.2,789.5 1379.8,783.1 1400.5,779.2 1421.1,774.1 1444.3,770.2 1464.9,765.5 1488.1,763.2 1508.7,757.3 1529.4,752.1 1550.0,747.0 1573.2,744.4 1593.8,740.5 1617.0,735.4 1644.6,730.0" fill="none" stroke="#1affff" stroke-width="3.3" stroke-linecap="round" stroke-linejoin="round" stroke-dasharray="7.5 14.8"/></g>
<g filter="url(#tb)"><rect x="1348.0" y="1003.9" width="282.5" height="97.1" fill="#fff" stroke="#9a9a9a" stroke-width="1.3"/><line x1="1353.6" y1="1018.3" x2="1396.0" y2="1018.3" stroke="#ff1a1a" stroke-width="2.6" stroke-linecap="round" stroke-dasharray="0.01 5.2"/><text x="1400.4" y="1026.0" class="lg">MF with PCI</text><line x1="1353.6" y1="1040.6" x2="1396.0" y2="1040.6" stroke="#1010ff" stroke-width="2.4" stroke-linecap="butt" stroke-dasharray="7.5 3.5 3.5 3.5"/><text x="1400.4" y="1048.7" class="lg">MF with conventional NMF</text><line x1="1353.6" y1="1063.8" x2="1396.0" y2="1063.8" stroke="#ff1aff" stroke-width="2.4" stroke-linecap="butt"/><text x="1400.4" y="1071.4" class="lg">MF with proposed NMF</text><line x1="1353.6" y1="1086.7" x2="1396.0" y2="1086.7" stroke="#1affff" stroke-width="2.4" stroke-linecap="butt" stroke-dasharray="12 10.5"/><text x="1400.4" y="1094.1" class="lg">MF only</text></g>
<g filter="url(#tb)"><text x="0" y="0" class="al" text-anchor="middle" transform="translate(982.3,881.8) rotate(-90)" dy="6.2">detection probability (%)</text>
<text x="1344.0" y="1172.5" class="al" text-anchor="middle">false alarm (%)</text>
<text x="0" y="0" class="fl" text-anchor="middle" transform="translate(1315.6,1224.6) scale(1.000,1)">(d)</text></g>
</svg></body></html>
